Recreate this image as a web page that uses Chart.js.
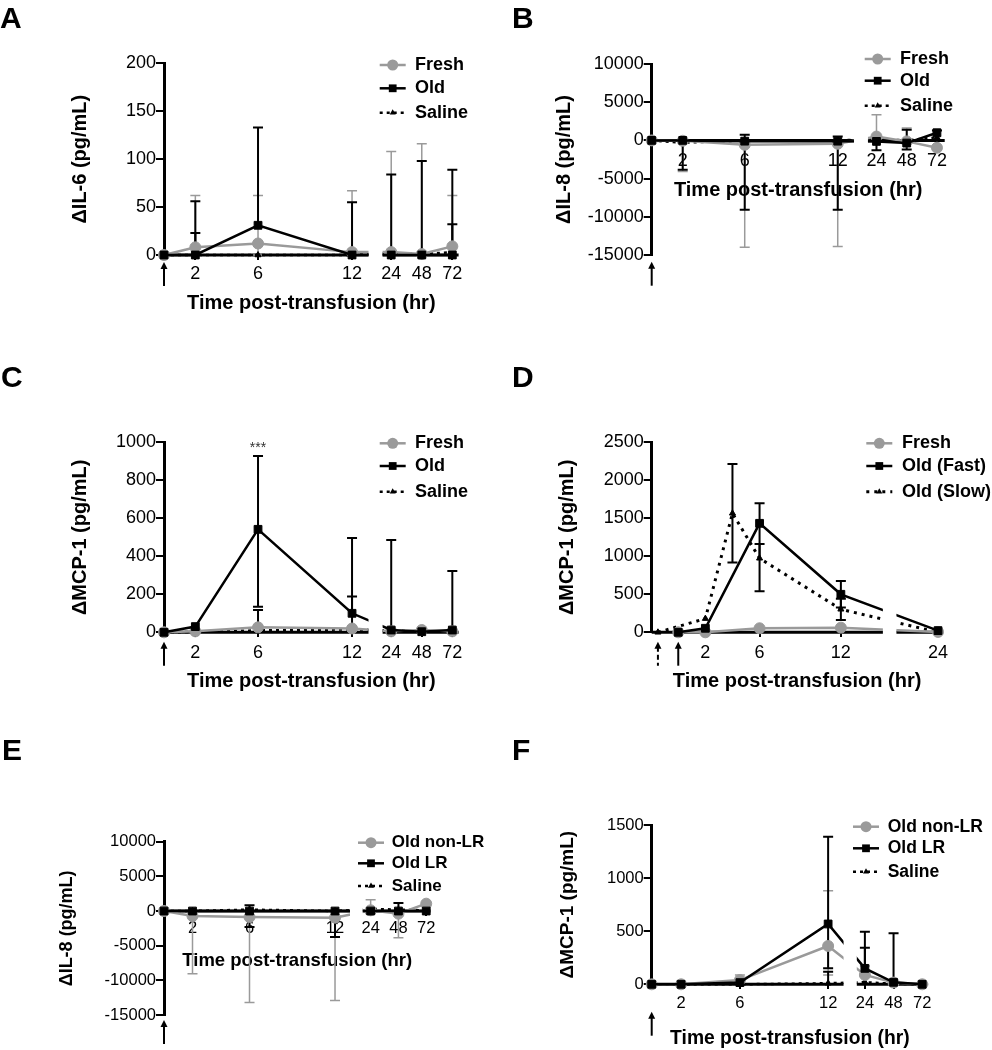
<!DOCTYPE html>
<html>
<head>
<meta charset="utf-8">
<script src="https://cdn.jsdelivr.net/npm/chart.js@4.4.1/dist/chart.umd.min.js"></script>
<style>
  html, body { margin: 0; padding: 0; background: #fff; overflow: hidden; }
  #page { position: relative; width: 992px; height: 1050px; overflow: hidden; }
  canvas { position: absolute; }
  .tag { position: absolute; z-index: 2; font: bold 30px/30px "Liberation Sans", Arial, sans-serif; color: #000; }
</style>
</head>
<body>
<div id="page">
  <canvas id="cA" width="496" height="370" style="left:0;top:0"></canvas>
  <canvas id="cB" width="496" height="370" style="left:496px;top:0"></canvas>
  <canvas id="cC" width="496" height="370" style="left:0;top:370px"></canvas>
  <canvas id="cD" width="496" height="370" style="left:496px;top:370px"></canvas>
  <canvas id="cE" width="496" height="310" style="left:0;top:740px"></canvas>
  <canvas id="cF" width="496" height="310" style="left:496px;top:740px"></canvas>
  <div class="tag" style="left:0;top:3px">A</div>
  <div class="tag" style="left:512px;top:3px">B</div>
  <div class="tag" style="left:1px;top:362px">C</div>
  <div class="tag" style="left:512px;top:362px">D</div>
  <div class="tag" style="left:2px;top:735px">E</div>
  <div class="tag" style="left:512px;top:735px">F</div>
</div>
<script>
Chart.defaults.font.family = '"Liberation Sans", Arial, sans-serif';
Chart.defaults.color = '#000';

// time points (hr)
const hoursLong = [0, 2, 6, 12, 24, 48, 72];
const tickHoursLong = [2, 6, 12, 24, 48, 72];
const hoursShort = [0, 2, 6, 12, 24];
const hoursSlow = [-1.5, 2, 4, 6, 12, 24];
const tickHoursShort = [2, 6, 12, 24];

// A - IL-6
const aFresh = [0, 8, 12, 3, 3, 1, 9];
const aFreshHi = [null, 62, 62, 67, 108, 116, 62];
const aFreshLo = [null, null, 0, null, null, null, null];
const aOld = [0, 0, 31, 0, 0, 0, 0];
const aOldHi = [null, 56, 133, 55, 84, 98, 89];
const aSaline = [0, 0, 0, 0, 2, 1, 3];
const aSalineHi = [null, 23, null, null, null, null, 32];

// B - IL-8
const bFresh = [0, -50, -570, -440, 500, -130, -960];
const bFreshHi = [null, null, null, null, 3370, 1630, null];
const bFreshLo = [null, -4060, -14000, -13900, null, null, null];
const bOld = [0, 0, -100, -100, -130, -350, 1000];
const bOldHi = [null, null, 740, 520, null, 1400, 1310];
const bOldLo = [null, null, -9080, -9080, -1300, -1200, null];
const bSaline = [0, -300, 0, 0, 200, 0, 400];
const bSalineLo = [null, -3840, null, null, null, null, null];

// C - MCP-1
const cFresh = [0, 5, 26, 20, 5, 12, 5];
const cFreshHi = [null, null, null, 30, null, null, null];
const cOld = [0, 30, 542, 100, 12, 3, 12];
const cOldHi = [null, null, 928, 496, 486, null, 323];
const cOldLo = [null, null, 135, null, null, null, null];
const cSaline = [0, 2, 10, 15, 10, 3, 5];
const cSalineHi = [null, null, 118, 188, null, null, null];

// D - MCP-1, fast vs slow infusion
const dFresh = [0, 0, 53, 61, 5];
const dFast = [0, 53, 1434, 500, 22];
const dFastHi = [null, null, 1697, 675, null];
const dFastLo = [null, null, 539, 325, null];
const dSlow = [0, 180, 1566, 974, 303, 0];
const dSlowHi = [null, null, 2215, 1162, 440, null];
const dSlowLo = [null, null, 917, null, 162, null];

// E - IL-8, leukoreduction
const eNonLR = [0, -720, -865, -960, 100, -385, 1060];
const eNonLRHi = [null, null, null, null, 1630, null, null];
const eNonLRLo = [null, -9040, -13200, -12900, null, -3840, null];
const eLR = [0, 0, 0, 0, 0, 0, 0];
const eLRHi = [null, null, 820, null, null, 1150, null];
const eLRLo = [null, null, -2300, -3750, -330, null, null];
const eSaline = [0, 0, 200, 0, 300, 200, 100];

// F - MCP-1, leukoreduction
const fNonLR = [0, 0, 40, 361, 88, 16, 0];
const fNonLRHi = [null, null, 88, 881, 173, null, null];
const fNonLRLo = [null, null, null, 88, null, null, null];
const fLR = [0, 0, 16, 568, 150, 19, 0];
const fLRHi = [null, null, null, 1390, 495, 480, null];
const fLRLo = [null, null, null, 150, null, null, null];
const fSaline = [0, 0, 0, 10, 20, 5, 0];
const fSalineHi = [null, null, null, 119, 345, null, null];

// broken time axis: 0-12 linear, then 24/48/72 squeezed after the gap
const posLong = h => (h <= 12 ? h : 14.5 + (h - 24) / 24 * 1.95);
const posShort = h => (h <= 15 ? h : 19.17 + (h - 24) * 0.1);

const grayStyle = { borderColor: '#9a9a9a', backgroundColor: '#9a9a9a', pointBackgroundColor: '#9a9a9a',
  pointBorderColor: '#9a9a9a', pointStyle: 'circle', pointRadius: 5.5, borderWidth: 2.5, errWidth: 1.5, order: 1 };
const blackStyle = { borderColor: '#000', backgroundColor: '#000', pointBackgroundColor: '#000',
  pointBorderColor: '#000', pointStyle: 'rect', pointRadius: 5.5, borderWidth: 2.5, errWidth: 2, order: 0 };
const dotStyle = { borderColor: '#000', backgroundColor: '#000', pointBackgroundColor: '#000',
  pointBorderColor: '#000', pointStyle: 'triangle', pointRadius: 3.5, borderWidth: 2.5,
  borderDash: [3, 4], errWidth: 2, order: 2 };

function series(label, hours, vals, hi, lo, style, toPos) {
  return Object.assign({
    label: label,
    data: hours.map((h, i) => ({ x: toPos(h), y: vals[i] })),
    errHi: hi || [],
    errLo: lo || [],
    tension: 0,
    clip: false,
    pointBorderWidth: 1
  }, style);
}

function marker(ctx, style, r, x, y) {
  ctx.beginPath();
  if (style === 'circle') {
    ctx.arc(x, y, r, 0, Math.PI * 2);
  } else if (style === 'rect') {
    const s = r * Math.SQRT1_2;
    ctx.rect(x - s, y - s, 2 * s, 2 * s);
  } else {
    let a = 0;
    ctx.moveTo(x + Math.sin(a) * r, y - Math.cos(a) * r);
    a += Math.PI * 2 / 3;
    ctx.lineTo(x + Math.sin(a) * r, y - Math.cos(a) * r);
    a += Math.PI * 2 / 3;
    ctx.lineTo(x + Math.sin(a) * r, y - Math.cos(a) * r);
    ctx.closePath();
  }
  ctx.fill();
}

// axis with break, error bars, arrows, legend
const panelPlugin = {
  id: 'panel',
  beforeDatasetsDraw(chart, args, o) {
    const { ctx, chartArea: a, scales: { x, y } } = chart;
    const y0 = y.getPixelForValue(0);
    const b0 = x.getPixelForValue(o.gap[0]);
    const b1 = x.getPixelForValue(o.gap[1]);
    ctx.save();
    ctx.strokeStyle = '#000';
    ctx.lineWidth = 3;
    ctx.beginPath();
    ctx.moveTo(a.left, y0); ctx.lineTo(b0, y0);
    ctx.moveTo(b1, y0); ctx.lineTo(a.right, y0);
    ctx.stroke();

    chart.data.datasets.forEach(ds => {
      ds.data.forEach((p, i) => {
        [ds.errHi[i], ds.errLo[i]].forEach(e => {
          if (e == null) return;
          const px = x.getPixelForValue(p.x);
          const py = y.getPixelForValue(p.y);
          const pe = y.getPixelForValue(e);
          ctx.strokeStyle = ds.borderColor;
          ctx.lineWidth = ds.errWidth;
          ctx.beginPath();
          ctx.moveTo(px, py); ctx.lineTo(px, pe);
          ctx.moveTo(px - 5, pe); ctx.lineTo(px + 5, pe);
          ctx.stroke();
        });
      });
    });
    ctx.restore();

    // hide lines inside the axis gap
    ctx.save();
    ctx.beginPath();
    ctx.rect(0, 0, b0, chart.height);
    ctx.rect(b1, 0, chart.width - b1, chart.height);
    ctx.clip();
  },
  afterDatasetsDraw(chart) {
    chart.ctx.restore();
  },
  afterDraw(chart, args, o) {
    const { ctx, chartArea: a, scales: { x, y } } = chart;
    ctx.save();

    // start-of-transfusion arrows
    o.arrows.forEach(ar => {
      const ax = x.getPixelForValue(ar.pos);
      const tip = a.bottom + o.arrowOff;
      ctx.strokeStyle = '#000';
      ctx.fillStyle = '#000';
      ctx.lineWidth = 2;
      ctx.setLineDash(ar.dash ? [5, 3] : []);
      ctx.beginPath();
      ctx.moveTo(ax, tip + 5); ctx.lineTo(ax, tip + 24);
      ctx.stroke();
      ctx.setLineDash([]);
      ctx.beginPath();
      ctx.moveTo(ax, tip); ctx.lineTo(ax - 3.5, tip + 7); ctx.lineTo(ax + 3.5, tip + 7);
      ctx.closePath();
      ctx.fill();
    });

    // significance mark
    if (o.note) {
      ctx.fillStyle = '#333';
      ctx.font = '14px "Liberation Sans", Arial, sans-serif';
      ctx.textAlign = 'center';
      ctx.textBaseline = 'middle';
      ctx.fillText(o.note.text, x.getPixelForValue(o.note.pos), y.getPixelForValue(o.note.v));
    }

    // legend
    const lg = o.legend;
    chart.data.datasets.forEach((ds, i) => {
      const ly = lg.rows[i];
      ctx.strokeStyle = ds.borderColor;
      ctx.lineWidth = ds.borderWidth;
      ctx.setLineDash(ds.borderDash || []);
      ctx.beginPath();
      ctx.moveTo(lg.x - 13, ly); ctx.lineTo(lg.x + 13, ly);
      ctx.stroke();
      ctx.setLineDash([]);
      ctx.fillStyle = ds.pointBackgroundColor;
      marker(ctx, ds.pointStyle, ds.pointRadius, lg.x, ly);
      ctx.fillStyle = '#000';
      ctx.font = 'bold ' + lg.size + 'px "Liberation Sans", Arial, sans-serif';
      ctx.textAlign = 'left';
      ctx.textBaseline = 'middle';
      ctx.fillText(ds.label, lg.textX, ly);
    });
    ctx.restore();
  }
};

function makePanel(id, p) {
  const cv = document.getElementById(id);
  return new Chart(cv, {
    type: 'line',
    data: { datasets: p.datasets },
    options: {
      responsive: false,
      animation: false,
      devicePixelRatio: 1,
      // the x axis sits at y = 0 and takes no layout room
      layout: { padding: { left: 0, top: p.top, right: cv.width - p.right, bottom: cv.height - p.bottom } },
      plugins: {
        legend: { display: false },
        tooltip: { enabled: false },
        panel: { gap: p.gap, arrows: p.arrows, arrowOff: p.arrowOff, legend: p.legend, note: p.note }
      },
      scales: {
        x: {
          type: 'linear',
          position: { y: 0 },
          min: p.xMin,
          max: p.xMax,
          afterBuildTicks: s => { s.ticks = p.ticks.map(h => ({ value: p.toPos(h) })); },
          afterFit: s => { s.height = p.xH; },
          grid: { drawOnChartArea: false, tickLength: 5, lineWidth: 2, color: '#000' },
          border: { display: false },
          ticks: {
            autoSkip: false, maxRotation: 0, padding: p.xTickPad,
            font: { size: p.tickSize },
            callback: (v, i) => String(p.ticks[i])
          },
          title: { display: true, text: 'Time post-transfusion (hr)', padding: 0,
                   font: { size: p.xTitleSize, weight: 'bold' } }
        },
        y: {
          min: p.yMin,
          max: p.yMax,
          afterFit: s => { s.width = p.left; },
          grid: { drawOnChartArea: false, tickLength: 8, lineWidth: 2, color: '#000' },
          border: { display: true, width: 3, color: '#000' },
          ticks: { stepSize: p.yStep, padding: 0, font: { size: p.tickSize }, callback: v => String(v) },
          title: { display: true, text: p.yTitle, padding: { top: p.yTitlePad, bottom: 0 },
                   font: { size: p.yTitleSize, weight: 'bold' } }
        }
      }
    },
    plugins: [panelPlugin]
  });
}

makePanel('cA', {
  datasets: [
    series('Fresh', hoursLong, aFresh, aFreshHi, aFreshLo, grayStyle, posLong),
    series('Old', hoursLong, aOld, aOldHi, null, blackStyle, posLong),
    series('Saline', hoursLong, aSaline, aSalineHi, null, dotStyle, posLong)
  ],
  left: 164, top: 63.3, right: 458.6, bottom: 255, xH: 60,
  xMin: 0, xMax: 18.8, toPos: posLong, ticks: tickHoursLong, gap: [13.05, 13.95],
  yMin: 0, yMax: 200, yStep: 50, yTitle: '\u0394IL-6 (pg/mL)',
  tickSize: 18, xTickPad: 3, xTitleSize: 20, yTitleSize: 20, yTitlePad: 68,
  arrows: [{ pos: 0 }], arrowOff: 7,
  legend: { x: 392.7, textX: 415, rows: [65, 88.3, 112.7], size: 18 }
});

makePanel('cB', {
  datasets: [
    series('Fresh', hoursLong, bFresh, bFreshHi, bFreshLo, grayStyle, posLong),
    series('Old', hoursLong, bOld, bOldHi, bOldLo, blackStyle, posLong),
    series('Saline', hoursLong, bSaline, null, bSalineLo, dotStyle, posLong)
  ],
  left: 155.7, top: 64, right: 448.7, bottom: 255, xH: 61.6,
  xMin: 0, xMax: 18.9, toPos: posLong, ticks: tickHoursLong, gap: [13.05, 13.95],
  yMin: -15000, yMax: 10000, yStep: 5000, yTitle: '\u0394IL-8 (pg/mL)',
  tickSize: 18, xTickPad: 4.8, xTitleSize: 20, yTitleSize: 20, yTitlePad: 56,
  arrows: [{ pos: 0 }], arrowOff: 6.7,
  legend: { x: 381.7, textX: 404, rows: [59, 80.7, 105.7], size: 18 }
});

makePanel('cC', {
  datasets: [
    series('Fresh', hoursLong, cFresh, cFreshHi, null, grayStyle, posLong),
    series('Old', hoursLong, cOld, cOldHi, cOldLo, blackStyle, posLong),
    series('Saline', hoursLong, cSaline, cSalineHi, null, dotStyle, posLong)
  ],
  left: 164, top: 72.3, right: 458.6, bottom: 262.3, xH: 61.4,
  xMin: 0, xMax: 18.8, toPos: posLong, ticks: tickHoursLong, gap: [13.05, 13.95],
  yMin: 0, yMax: 1000, yStep: 200, yTitle: '\u0394MCP-1 (pg/mL)',
  tickSize: 18, xTickPad: 5, xTitleSize: 20, yTitleSize: 20, yTitlePad: 68,
  arrows: [{ pos: 0 }], arrowOff: 9.4,
  note: { pos: 6, v: 968, text: '***' },
  legend: { x: 392.7, textX: 415, rows: [73.3, 96, 121.7], size: 18 }
});

makePanel('cD', {
  datasets: [
    series('Fresh', hoursShort, dFresh, null, null, grayStyle, posShort),
    series('Old (Fast)', hoursShort, dFast, dFastHi, dFastLo, blackStyle, posShort),
    series('Old (Slow)', hoursSlow, dSlow, dSlowHi, dSlowLo, Object.assign({}, dotStyle, { borderDash: [3, 5], borderWidth: 3 }), posShort)
  ],
  left: 155.7, top: 72.3, right: 446.5, bottom: 262.3, xH: 61.4,
  xMin: -1.96, xMax: 19.5, toPos: posShort, ticks: tickHoursShort, gap: [15.1, 16.1],
  yMin: 0, yMax: 2500, yStep: 500, yTitle: '\u0394MCP-1 (pg/mL)',
  tickSize: 18, xTickPad: 5, xTitleSize: 20, yTitleSize: 20, yTitlePad: 59.7,
  arrows: [{ pos: -1.5, dash: true }, { pos: 0 }], arrowOff: 9.4,
  legend: { x: 383.3, textX: 406, rows: [73.3, 96, 121.7], size: 18 }
});

makePanel('cE', {
  datasets: [
    series('Old non-LR', hoursLong, eNonLR, eNonLRHi, eNonLRLo, grayStyle, posLong),
    series('Old LR', hoursLong, eLR, eLRHi, eLRLo, blackStyle, posLong),
    series('Saline', hoursLong, eSaline, null, null, dotStyle, posLong)
  ],
  left: 164, top: 101.7, right: 430.5, bottom: 275, xH: 61.1,
  xMin: 0, xMax: 18.7, toPos: posLong, ticks: tickHoursLong, gap: [13.05, 13.95],
  yMin: -15000, yMax: 10000, yStep: 5000, yTitle: '\u0394IL-8 (pg/mL)',
  tickSize: 16.5, xTickPad: 2.7, xTitleSize: 18.5, yTitleSize: 18, yTitlePad: 55.9,
  arrows: [{ pos: 0 }], arrowOff: 5,
  legend: { x: 371, textX: 391.7, rows: [102.7, 123.3, 146], size: 17 }
});

makePanel('cF', {
  datasets: [
    series('Old non-LR', hoursLong, fNonLR, fNonLRHi, fNonLRLo, grayStyle, posLong),
    series('Old LR', hoursLong, fLR, fLRHi, fLRLo, blackStyle, posLong),
    series('Saline', hoursLong, fSaline, fSalineHi, null, dotStyle, posLong)
  ],
  left: 155.7, top: 85, right: 432.1, bottom: 244.3, xH: 65.6,
  xMin: 0, xMax: 18.8, toPos: posLong, ticks: tickHoursLong, gap: [13.05, 13.95],
  yMin: 0, yMax: 1500, yStep: 500, yTitle: '\u0394MCP-1 (pg/mL)',
  tickSize: 16.5, xTickPad: 4, xTitleSize: 19.3, yTitleSize: 19, yTitlePad: 60.3,
  arrows: [{ pos: 0 }], arrowOff: 27.4,
  legend: { x: 370, textX: 391.7, rows: [86.7, 108.3, 131.7], size: 17.5 }
});
</script>
</body>
</html>
